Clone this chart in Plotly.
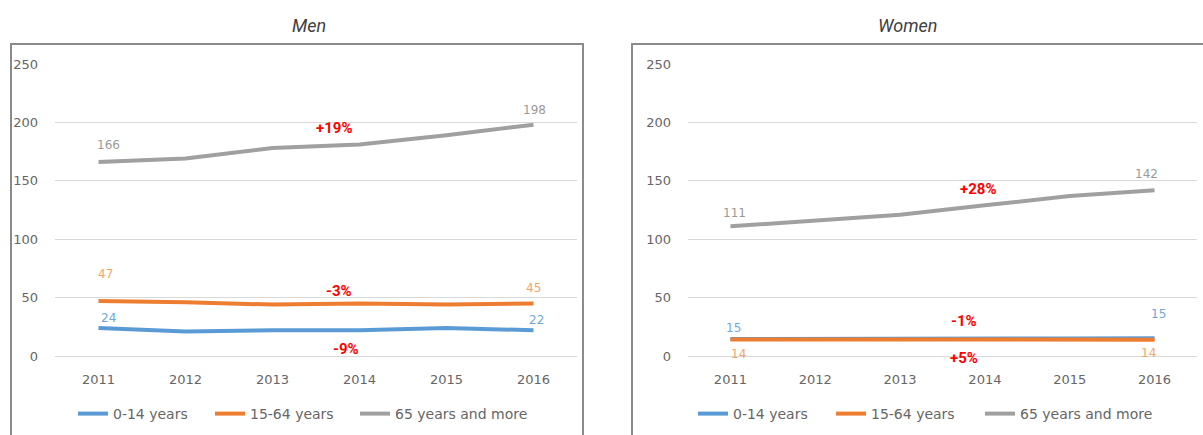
import plotly.graph_objects as go

W, H = 1203, 435

years = [2011, 2012, 2013, 2014, 2015, 2016]
series_names = ["0-14 years", "15-64 years", "65 years and more"]
colors = ["#5B9BD5", "#ED7D31", "#A0A0A0"]
label_colors = ["#6FA8DC", "#F2A66E", "#9A9A9A"]

men_0_14 = [24, 21, 22, 22, 24, 22]
men_15_64 = [47, 46, 44, 45, 44, 45]
men_65 = [166, 169, 178, 181, 189, 198]

women_0_14 = [14.6, 14.5, 14.6, 14.8, 15.0, 15.3]
women_15_64 = [14.2, 14.0, 14.0, 14.1, 14.1, 14.0]
women_65 = [111, 116, 121, 129, 137, 142]

men_labels_first = ["24", "47", "166"]
men_labels_last = ["22", "45", "198"]
women_labels_first = ["15", "14", "111"]
women_labels_last = ["15", "14", "142"]

men_changes = ["-9%", "-3%", "+19%"]
women_changes = ["+5%", "-1%", "+28%"]

y_ticks = [0, 50, 100, 150, 200, 250]

def px(x):
    return x / W

def py(y):
    return (H - y) / H

fig = go.Figure()

men = [men_0_14, men_15_64, men_65]
women = [women_0_14, women_15_64, women_65]

# one legend per entry so each can be placed like the original
men_legend_x = [73, 210, 355]
women_legend_x = [693, 831, 980]

for i in range(3):
    fig.add_trace(go.Scatter(x=years, y=men[i], mode="lines", name=series_names[i],
                             line=dict(color=colors[i], width=4), xaxis="x", yaxis="y",
                             legend="legend" if i == 0 else "legend%d" % (i + 1),
                             hoverinfo="skip"))
for i in [0, 2, 1]:
    fig.add_trace(go.Scatter(x=years, y=women[i], mode="lines", name=series_names[i],
                             line=dict(color=colors[i], width=4), xaxis="x2", yaxis="y2",
                             legend="legend%d" % (i + 4), hoverinfo="skip"))

font_family = "DejaVu Sans"
ann = []
# value labels (xshift, yshift in px)
men_first_shift = [(10, 10), (7, 27), (10, 17)]
men_last_shift = [(3, 10), (0, 15), (1, 15)]
women_first_shift = [(3, 11), (8, -15), (4, 13)]
women_last_shift = [(4, 24), (-6, -13), (-8, 16)]

for i in range(3):
    for (xr, yr, data, lab, sh, idx) in [
        ("x", "y", men[i], men_labels_first, men_first_shift, 0),
        ("x", "y", men[i], men_labels_last, men_last_shift, -1),
        ("x2", "y2", women[i], women_labels_first, women_first_shift, 0),
        ("x2", "y2", women[i], women_labels_last, women_last_shift, -1),
    ]:
        ann.append(dict(x=years[idx], y=data[idx], xref=xr, yref=yr, text=lab[i],
                        showarrow=False, xshift=sh[i][0], yshift=sh[i][1],
                        font=dict(family=font_family, size=12, color=label_colors[i])))

# change annotations: (x, y, yshift px)
men_change_pos = [(2013.84, 6, 0), (2013.77, 55.6, 0), (2013.71, 195, 0)]
women_change_pos = [(2013.75, 0, -2), (2013.75, 30, 0), (2013.92, 143, 0)]
for i in range(3):
    ann.append(dict(x=men_change_pos[i][0], y=men_change_pos[i][1], yshift=men_change_pos[i][2],
                    xref="x", yref="y", text="<b>" + men_changes[i] + "</b>", showarrow=False,
                    font=dict(family="Roboto", size=15, color="#FF0000")))
    ann.append(dict(x=women_change_pos[i][0], y=women_change_pos[i][1], yshift=women_change_pos[i][2],
                    xref="x2", yref="y2", text="<b>" + women_changes[i] + "</b>", showarrow=False,
                    font=dict(family="Roboto", size=15, color="#FF0000")))

# panel titles
ann.append(dict(x=px(309), y=py(25), xref="paper", yref="paper", text="<i>Men</i>",
                xanchor="center", yanchor="middle",
                showarrow=False, font=dict(family="Roboto", size=18, color="#404040")))
ann.append(dict(x=px(907), y=py(25), xref="paper", yref="paper", text="<i>Women</i>",
                xanchor="center", yanchor="middle",
                showarrow=False, font=dict(family="Roboto", size=18, color="#404040")))

shapes = [
    dict(type="rect", xref="paper", yref="paper", x0=px(11), x1=px(583), y0=-0.2, y1=py(44),
         line=dict(color="#8A8A8A", width=2), layer="below"),
    dict(type="rect", xref="paper", yref="paper", x0=px(632), x1=px(1215), y0=-0.2, y1=py(44),
         line=dict(color="#8A8A8A", width=2), layer="below"),
]

tickfont = dict(family=font_family, size=13, color="#666666")
yax = dict(range=[0, 250], tickvals=y_ticks, showgrid=True, gridcolor="#D9D9D9", gridwidth=1,
           zeroline=True, zerolinecolor="#D9D9D9", zerolinewidth=1, showline=False,
           tickfont=tickfont, ticklabelstandoff=16, domain=[py(356), py(64)], fixedrange=True,
           automargin=False)
xax = dict(range=[2010.5, 2016.5], tickvals=years, showgrid=False, zeroline=False, showline=False,
           tickfont=tickfont, ticklabelstandoff=14, fixedrange=True, automargin=False)

legend_common = dict(orientation="h", yanchor="middle", y=py(414), xanchor="left",
                     font=dict(family=font_family, size=14, color="#666666"),
                     bgcolor="rgba(0,0,0,0)", itemwidth=30)

legends = {}
for i, xpos in enumerate(men_legend_x + women_legend_x):
    key = "legend" if i == 0 else "legend%d" % (i + 1)
    legends[key] = dict(legend_common, x=px(xpos))

fig.update_layout(
    width=W, height=H,
    margin=dict(l=0, r=0, t=0, b=0, autoexpand=False),
    paper_bgcolor="white", plot_bgcolor="white",
    xaxis=dict(xax, domain=[px(55), px(577)], anchor="y"),
    yaxis=dict(yax, anchor="x"),
    xaxis2=dict(xax, domain=[px(688), px(1197)], anchor="y2"),
    yaxis2=dict(yax, anchor="x2"),
    annotations=ann,
    shapes=shapes,
    showlegend=True,
    **legends,
)

fig.write_html("out.html", config={"displayModeBar": False},
               post_script="document.body.style.margin='0';document.body.style.overflow='hidden';")
